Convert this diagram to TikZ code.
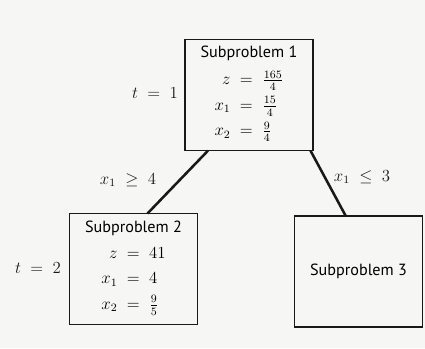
\documentclass[tikz,border=0pt]{standalone}
\usepackage{fontspec}
\setmainfont{PT Sans}
\usetikzlibrary{calc}

\definecolor{paper}{RGB}{246,246,244}
\definecolor{ink}{RGB}{25,25,25}

\tikzset{
    subbox/.style={draw=ink, line width=1.1pt, fill=paper, minimum width=3.2cm,
        minimum height=2.78cm, inner sep=0pt, outer sep=0pt, align=center,
        font=\fontsize{11.5}{14}\selectfont},
    branch/.style={draw=ink, line width=1.8pt},
    lbl/.style={font=\fontsize{11.5}{14}\selectfont, text=ink}
}
\newcommand{\solvals}[3]{%
    $\renewcommand{\arraystretch}{1.3}%
    \begin{array}{r@{\;\;=\;\;}l} z & #1\\ x_1 & #2\\ x_2 & #3 \end{array}$}

\begin{document}
\begin{tikzpicture}[x=0.025cm, y=-0.025cm]
        % -- page ----------------------------------------------------------------
        \fill[paper] (0,0) rectangle (425,348);
        \useasboundingbox (0,0) rectangle (425,348);

        % -- subproblems ---------------------------------------------------------
        \node[subbox] (sp1) at (249,95)
            {Subproblem 1\\[3pt]\solvals{\frac{165}{4}}{\frac{15}{4}}{\frac{9}{4}}};
        \node[subbox] (sp2) at (133.5,269)
            {Subproblem 2\\[2pt]\solvals{41}{4}{\frac{9}{5}}};
        \node[subbox] (sp3) at (358.5,271.5) {Subproblem 3};

        % -- branches ------------------------------------------------------------
        \draw[branch] ($(sp1.south west)!0.18!(sp1.south east)$)
            -- ($(sp2.north west)!0.61!(sp2.north east)$);
        \draw[branch] ($(sp1.south west)!0.98!(sp1.south east)$)
            -- ($(sp3.north west)!0.40!(sp3.north east)$);

        % -- branch conditions and levels ----------------------------------------
        \node[lbl] (cl) at (128,180) {$x_1 \;\geq\; 4$};
        \node[lbl] (cr) at (362,177) {$x_1 \;\leq\; 3$};
        \foreach \t/\x/\y in {1/155/93, 2/38/268} {
            \node[lbl] (t\t) at (\x,\y) {$t \;=\; \t$};
        }
    \end{tikzpicture}
\end{document}
